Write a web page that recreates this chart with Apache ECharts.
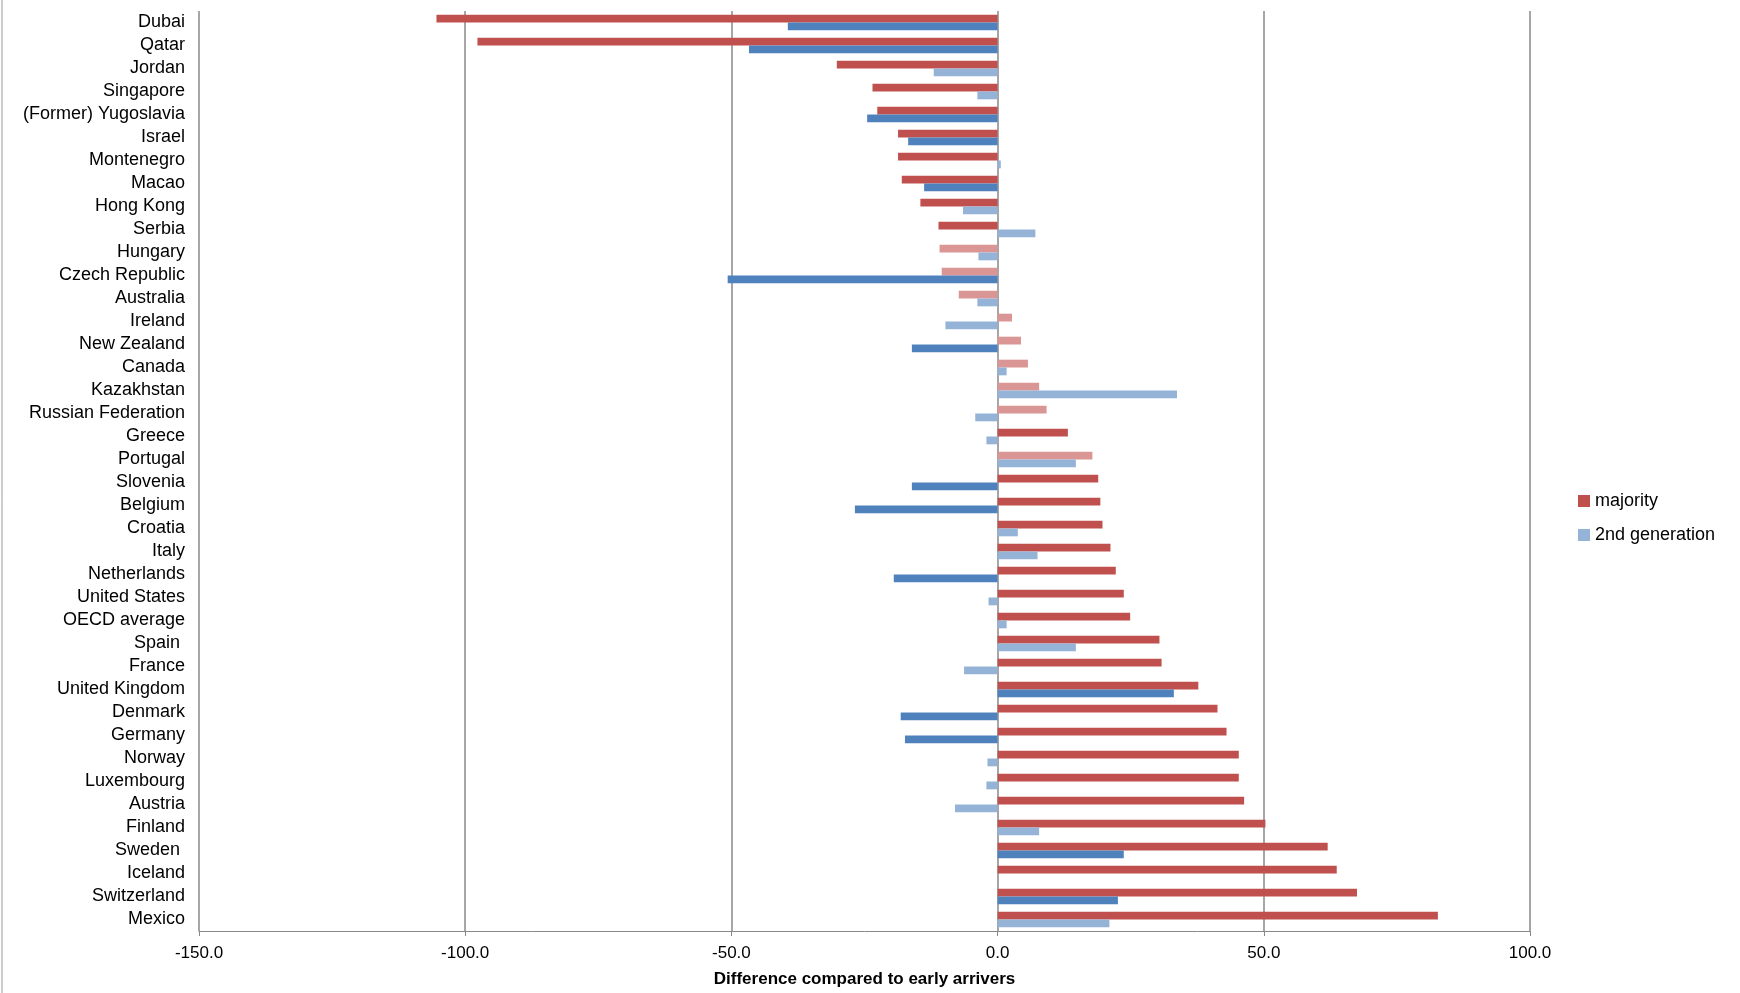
<!DOCTYPE html>
<html>
<head>
<meta charset="utf-8">
<script src="https://cdn.jsdelivr.net/npm/echarts@6/dist/echarts.min.js"></script>
<style>html,body{margin:0;padding:0;background:#fff}#chart{width:1740px;height:993px}</style>
</head>
<body>
<div id="chart"></div>
<script>
const countries = ['Dubai','Qatar','Jordan','Singapore','(Former) Yugoslavia','Israel','Montenegro','Macao','Hong Kong','Serbia','Hungary','Czech Republic','Australia','Ireland','New Zealand','Canada','Kazakhstan','Russian Federation','Greece','Portugal','Slovenia','Belgium','Croatia','Italy','Netherlands','United States','OECD average','Spain ','France','United Kingdom','Denmark','Germany','Norway','Luxembourg','Austria','Finland','Sweden ','Iceland','Switzerland','Mexico'];
const majority = [-105.4,-97.7,-30.2,-23.5,-22.6,-18.7,-18.7,-18.0,-14.5,-11.1,-10.9,-10.5,-7.3,2.7,4.4,5.7,7.8,9.2,13.2,17.8,18.9,19.3,19.7,21.2,22.2,23.7,24.9,30.4,30.8,37.7,41.3,43.0,45.3,45.3,46.3,50.3,62.0,63.7,67.5,82.7];
// 1 = significant (dark), 0 = not significant (light)
const majoritySig = [1,1,1,1,1,1,1,1,1,1,0,0,0,0,0,0,0,0,1,0,1,1,1,1,1,1,1,1,1,1,1,1,1,1,1,1,1,1,1,1];
const secondGen = [-39.4,-46.7,-12.0,-3.8,-24.5,-16.8,0.6,-13.8,-6.5,7.1,-3.6,-50.7,-3.8,-9.8,-16.1,1.7,33.7,-4.2,-2.1,14.7,-16.1,-26.8,3.8,7.5,-19.5,-1.7,1.7,14.7,-6.3,33.1,-18.2,-17.4,-1.9,-2.1,-8.0,7.8,23.7,0,22.6,21.0];
const secondSig = [1,1,0,0,1,1,0,1,0,0,0,1,0,0,1,0,0,0,0,0,1,1,0,0,1,0,0,0,0,1,1,1,0,0,0,0,1,0,1,0];

const chart = echarts.init(document.getElementById('chart'));
const font = 'Liberation Sans, Arial, sans-serif';
chart.setOption({
  animation: false,
  textStyle: {fontFamily: font},
  grid: {left: 199, right: 210, top: 11, bottom: 58},
  graphic: [{type: 'line', shape: {x1: 2, y1: 0, x2: 2, y2: 993}, style: {stroke: '#999', lineWidth: 1}}],
  legend: {
    orient: 'vertical', left: 1573, top: 487, itemGap: 16,
    itemWidth: 12, itemHeight: 12, icon: 'rect',
    textStyle: {fontSize: 18, color: '#000', fontFamily: font},
    data: [{name: 'majority', itemStyle: {color: '#C0504D'}}, {name: '2nd generation', itemStyle: {color: '#95B3D7'}}]
  },
  xAxis: {
    type: 'value', min: -150, max: 100, interval: 50,
    name: 'Difference compared to early arrivers', nameLocation: 'middle', nameGap: 40,
    nameTextStyle: {fontSize: 17, fontWeight: 'bold', color: '#000'},
    axisLine: {show: true, lineStyle: {color: '#888'}},
    axisTick: {show: true, inside: false, length: 5, lineStyle: {color: '#888'}},
    axisLabel: {fontSize: 17, color: '#000', margin: 14, formatter: v => v.toFixed(1)},
    splitLine: {show: true, lineStyle: {color: '#888', width: 1.5}}
  },
  yAxis: {
    type: 'category', data: countries, inverse: true,
    axisLine: {show: false, onZero: false},
    axisTick: {show: false},
    axisLabel: {fontSize: 18, color: '#000', margin: 14, interval: 0}
  },
  series: [
    {name: 'majority', type: 'bar', barGap: '0%', barCategoryGap: '32%',
     data: majority.map((v, i) => ({value: v, itemStyle: {color: majoritySig[i] ? '#C0504D' : '#D99694'}}))},
    {name: '2nd generation', type: 'bar',
     data: secondGen.map((v, i) => ({value: v, itemStyle: {color: secondSig[i] ? '#4F81BD' : '#95B3D7'}}))}
  ]
});
</script>
</body>
</html>
